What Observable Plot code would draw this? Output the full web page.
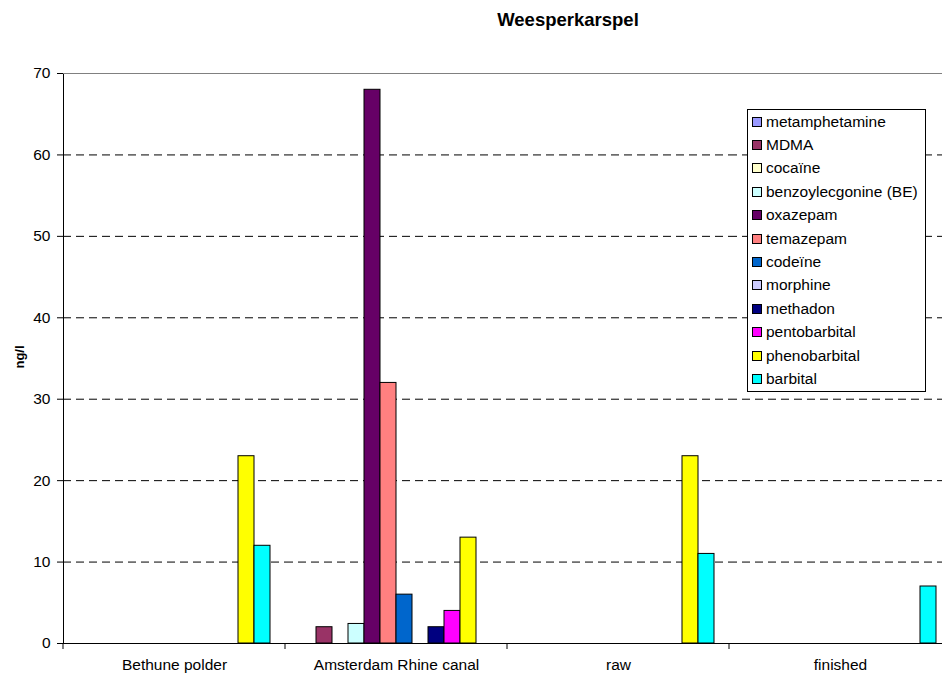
<!DOCTYPE html>
<html>
<head>
<meta charset="utf-8">
<script src="https://cdn.jsdelivr.net/npm/d3@7"></script>
<script src="https://cdn.jsdelivr.net/npm/@observablehq/plot@0.6"></script>
<style>
  html, body { margin: 0; padding: 0; background: #fff; overflow: hidden; }
  body { width: 942px; height: 675px; position: relative; font-family: Arial, "Liberation Sans", sans-serif; color: #000; }
  #page { position: relative; width: 942px; height: 675px; overflow: hidden; }
  #title { position: absolute; left: 418px; top: 9px; width: 300px; text-align: center; font-weight: bold; font-size: 18.5px; line-height: 22px; }
  #ylabel { position: absolute; left: 19px; top: 357px; transform: translate(-50%, -50%) rotate(-90deg); font-weight: bold; font-size: 13px; white-space: nowrap; }
  #chart { position: absolute; left: 0; top: 40px; width: 942px; height: 635px; overflow: hidden; }
  #chart svg { max-width: none !important; width: 951px !important; height: 635px !important; }
  #legend { position: absolute; left: 747px; top: 109px; width: 179px; border: 1px solid #000; background: #fff; box-sizing: border-box; padding: 0; }
  #legend .row { height: 23.4px; display: flex; align-items: center; font-size: 15.5px; white-space: nowrap; }
  #legend .sw { width: 8px; height: 8px; border: 1px solid #000; margin: 0 4px 0 4px; flex: none; }
</style>
</head>
<body>
<div id="page">
  <div id="title">Weesperkarspel</div>
  <div id="chart"></div>
  <div id="ylabel">ng/l</div>
  <div id="legend"></div>
</div>
<script>
// Sampling sites (x groups)
const sites = ["Bethune polder", "Amsterdam Rhine canal", "raw", "finished"];

// Compounds (series within each group)
const compounds = [
  "metamphetamine", "MDMA", "cocaïne", "benzoylecgonine (BE)", "oxazepam", "temazepam",
  "codeïne", "morphine", "methadon", "pentobarbital", "phenobarbital", "barbital"
];

const compoundColors = [
  "#9999FF", "#993366", "#FFFFCC", "#CCFFFF", "#660066", "#FF8080",
  "#0066CC", "#CCCCFF", "#000080", "#FF00FF", "#FFFF00", "#00FFFF"
];

// Concentrations in ng/l, one value per compound (same order as above)
const bethunePolder       = [0, 0, 0, 0,   0,  0, 0, 0, 0, 0, 23, 12];
const amsterdamRhineCanal = [0, 2, 0, 2.4, 68, 32, 6, 0, 2, 4, 13, 0];
const raw                 = [0, 0, 0, 0,   0,  0, 0, 0, 0, 0, 23, 11];
const finished            = [0, 0, 0, 0,   0,  0, 0, 0, 0, 0, 0,  7];

const yTicks = [0, 10, 20, 30, 40, 50, 60, 70];
const gridLines = [10, 20, 30, 40, 50, 60];

const siteValues = [bethunePolder, amsterdamRhineCanal, raw, finished];
const rows = [];
sites.forEach((site, i) => {
  siteValues[i].forEach((v, j) => {
    if (v > 0) rows.push({site, compound: compounds[j], value: v});
  });
});

// The plot area runs a little past the right edge of the page and is clipped there
const W = 951, H = 635, mTop = 33, mBottom = 32, mLeft = 63, mRight = 0;

const chart = Plot.plot({
  width: W,
  height: H,
  marginTop: mTop,
  marginBottom: mBottom,
  marginLeft: mLeft,
  marginRight: mRight,
  style: {
    fontFamily: "Arial, 'Liberation Sans', sans-serif",
    fontSize: "15.5px",
    color: "#000",
    background: "transparent",
    overflow: "visible",
    maxWidth: "none"
  },
  fx: {domain: sites, range: [mLeft, W - mRight], padding: 0, label: null, axis: "bottom", tickSize: 0, tickPadding: 15},
  x: {domain: compounds, paddingInner: 0, paddingOuter: 0.75, axis: null},
  y: {domain: [0, 70], range: [H - mBottom, mTop], ticks: yTicks, tickSize: 6, tickPadding: 7, label: null, line: true},
  color: {domain: compounds, range: compoundColors},
  marks: [
    Plot.ruleY(gridLines, {stroke: "#000", strokeWidth: 1, strokeDasharray: "8,5"}),
    Plot.ruleY([70], {stroke: "#808080", strokeWidth: 1}),
    Plot.barY(rows, {fx: "site", x: "compound", y: "value", fill: "compound", stroke: "#000", strokeWidth: 1}),
    Plot.ruleY([0], {stroke: "#000", strokeWidth: 1})
  ]
});
document.getElementById("chart").appendChild(chart);

// Category-boundary tick marks below the baseline, placed with the fx and y scales
const fxS = chart.scale("fx");
const yS = chart.scale("y");
const band = d3.scaleBand(fxS.domain, fxS.range)
  .paddingInner(fxS.paddingInner ?? 0)
  .paddingOuter(fxS.paddingOuter ?? 0);
const yScale = d3.scaleLinear(yS.domain, yS.range);
const y0 = yScale(0);
const edges = sites.map(s => band(s)).concat([band(sites[sites.length - 1]) + band.bandwidth()]);
d3.select(chart).append("g")
  .attr("stroke", "#000")
  .selectAll("line")
  .data(edges)
  .join("line")
  .attr("x1", d => d).attr("x2", d => d)
  .attr("y1", y0).attr("y2", y0 + 6);

// Legend
const legend = d3.select("#legend");
compounds.forEach((c, i) => {
  const row = legend.append("div").attr("class", "row");
  row.append("div").attr("class", "sw").style("background", compoundColors[i]);
  row.append("span").text(c);
});
</script>
</body>
</html>
